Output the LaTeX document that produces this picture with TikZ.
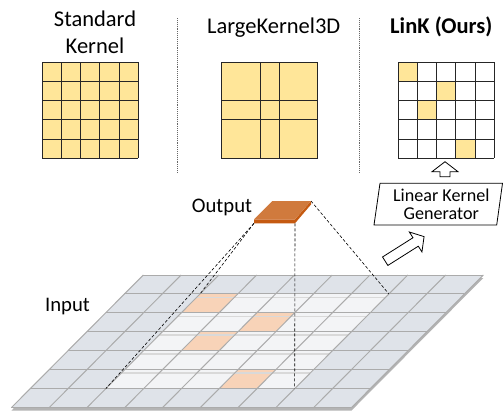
\documentclass[tikz,border=0pt]{standalone}
\usepackage{fontspec}
\setmainfont{Carlito}
\usetikzlibrary{calc}

\definecolor{kernelyellow}{HTML}{FFE699}
\definecolor{inputgray}{HTML}{DFE3E9}
\definecolor{inputline}{HTML}{ABABAB}
\definecolor{inputedge}{HTML}{B4B4B4}
\definecolor{windowfill}{HTML}{F3F4F6}
\definecolor{windoworange}{HTML}{F8D3B8}
\definecolor{outtop}{HTML}{D07A3D}
\definecolor{outside}{HTML}{C55A11}

\tikzset{
  kcell/.style={draw=black!85,line width=0.9pt},
  headtext/.style={font=\fontsize{22.5}{26.7}\selectfont,align=center},
  sidetext/.style={font=\fontsize{20.7}{24}\selectfont,anchor=base},
  divider/.style={densely dotted,line width=0.9pt,black!60},
  rf/.style={densely dashed,line width=0.6pt},
  hollowarrow/.style={draw,fill=white,line width=0.8pt,line join=miter},
}

\begin{document}
\begin{tikzpicture}[x=1pt,y=-1pt]

\useasboundingbox (0,0) rectangle (503,410);

% kernel titles
\node[headtext] (stdtitle) at (95,32) {Standard\\Kernel};
\node[headtext,anchor=base] (lktitle) at (273.7,33.3) {LargeKernel3D};
\node[headtext,anchor=base,font=\fontsize{22.5}{26.7}\selectfont\bfseries] (linktitle) at (441.3,33.3) {LinK (Ours)};

\draw[divider] (177.7,18) -- (177.7,172);
\draw[divider] (359,18) -- (359,172);

% standard kernel
\begin{scope}[shift={(42.3,62.3)},x=19.2pt,y=-19.2pt]
\fill[kernelyellow] (0,0) rectangle (5,5);
\foreach \k in {0,...,5} {
  \draw[kcell] (\k,0) -- (\k,5);
  \draw[kcell] (0,\k) -- (5,\k);
}
\end{scope}

% large kernel, shared blocks
\begin{scope}[shift={(221.7,62.3)},x=19.2pt,y=-19.2pt]
\fill[kernelyellow] (0,0) rectangle (5,5);
\draw[kcell] (0,0) rectangle (5,5);
\foreach \k in {2,3} {
  \draw[kcell] (\k,0) -- (\k,5);
  \draw[kcell] (0,\k) -- (5,\k);
}
\end{scope}

% linear kernel
\begin{scope}[shift={(398.3,62.3)},x=19.2pt,y=-19.2pt]
\foreach \c/\r in {0/0,2/1,1/2,3/4}
  \fill[kernelyellow] (\c,\r) rectangle ++(1,1);
\foreach \k in {0,...,5} {
  \draw[kcell] (\k,0) -- (\k,5);
  \draw[kcell] (0,\k) -- (5,\k);
}
\coordinate (link-bottom) at (2.5,5);
\end{scope}

% input plane
\begin{scope}[shift={(143.3,275)},x={(37.78pt,0pt)},y={(-18.85pt,-18.95pt)}]
\fill[inputedge,yshift=-3pt] (0,0) -- (9,0) -- (9,7) -- (0,7) -- cycle;
\fill[inputgray] (0,0) -- (9,0) -- (9,7) -- (0,7) -- cycle;
\fill[windowfill] (2,1) -- (7,1) -- (7,6) -- (2,6) -- cycle;
\foreach \c/\r in {2/1,4/2,3/3,5/5}
  \fill[windoworange] (\c,\r) -- ++(1,0) -- ++(0,1) -- ++(-1,0) -- cycle;
\foreach \r in {1,...,5}
  \draw[black!15,line width=1.2pt] (2,\r+0.17) -- (7,\r+0.17);
\foreach \c in {0,...,9}
  \draw[inputline,line width=1pt] (\c,0) -- (\c,7);
\foreach \r in {0,...,7}
  \draw[inputline,line width=1pt] (0,\r) -- (9,\r);
\coordinate (win-tl) at (2,1);
\coordinate (win-tr) at (7,1);
\coordinate (win-bl) at (2,6);
\coordinate (win-br) at (7,6);
\end{scope}

\node[sidetext] (inputlbl) at (67.5,311.6) {Input};
\node[sidetext] (outputlbl) at (222,212.3) {Output};

% receptive field
\coordinate (out-fl) at (254,223.3);
\coordinate (out-fr) at (295,223.3);
\coordinate (out-br) at (311,201);
\draw[rf] (out-fl) -- (win-tl);
\draw[rf] (out-fl) -- (win-bl);
\draw[rf] (out-fr) -- (win-br);
\draw[rf] (out-br) -- (win-tr);

% output voxel
\fill[outside] (254,219.3) -- (295,219.3) -- (311,201) -- (311,204.5) -- (out-fr) -- (out-fl) -- cycle;
\fill[outtop] (272.3,201) -- (out-br) -- (295,219.3) -- (254,219.3) -- cycle;

% generator
\draw[line width=0.8pt] (380,183.3) -- (502.5,183.3) -- (496.7,225) -- (374,225) -- cycle;
\node[font=\fontsize{18.1}{18}\selectfont,align=center] (gen) at (441.3,204) {Linear Kernel\\Generator};

\coordinate (push-tail) at (385.2,261.2);
\draw[hollowarrow,shift={(push-tail)},rotate=32.3]
  (0,-5) -- (36,-5) -- (36,-11.8) -- (46,0) -- (36,11.8) -- (36,5) -- (0,5) -- cycle;

\coordinate (lift-tail) at (445,176.7);
\draw[hollowarrow,shift={(lift-tail)},rotate=90]
  (0,-5) -- (5,-5) -- (5,-13) -- (15,0) -- (5,13) -- (5,5) -- (0,5) -- cycle;

\end{tikzpicture}
\end{document}
